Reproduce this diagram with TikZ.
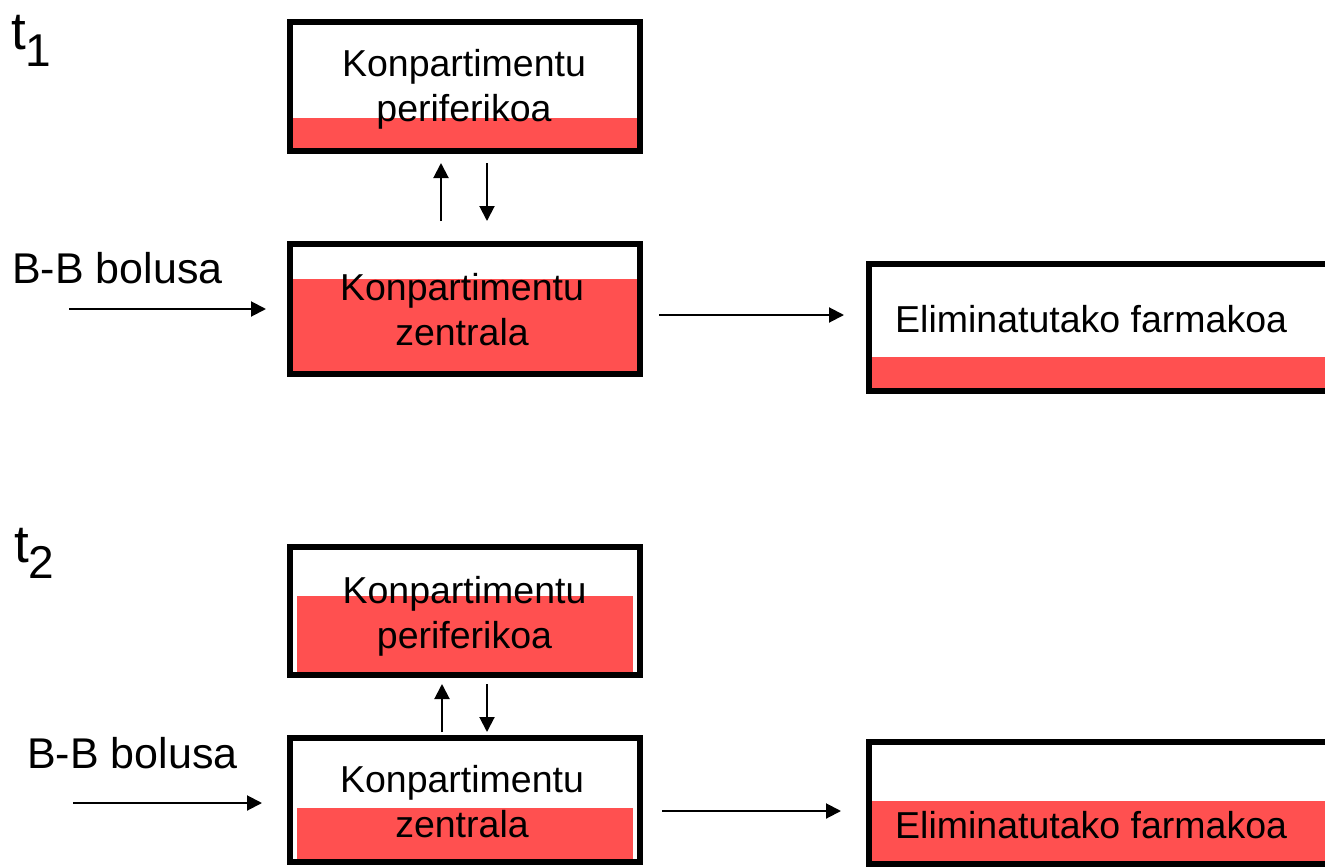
\documentclass[tikz,border=0pt]{standalone}
\usepackage{fontspec}
\setmainfont{Liberation Sans}
\usetikzlibrary{arrows.meta}
\definecolor{fillred}{RGB}{255,80,80}
\tikzset{
  box/.style={draw=black, line width=6pt, rectangle, inner sep=0pt, outer sep=0pt},
  redfill/.style={fill=fillred, draw=none},
  arr/.style={line width=2pt, -{Triangle[length=15pt,width=15pt]}},
  lbl/.style={inner sep=0pt, anchor=base, font=\fontsize{37.5}{45}\selectfont},
  sidelbl/.style={inner sep=0pt, anchor=base west, font=\fontsize{43}{50}\selectfont},
  elilbl/.style={inner sep=0pt, anchor=base west, font=\fontsize{37.5}{45}\selectfont},
  tlbl/.style={inner sep=0pt, anchor=base west, font=\fontsize{53}{60}\selectfont}
}
\newcommand{\twolines}[2]{\begin{tabular}[t]{@{}c@{}}#1\\#2\end{tabular}}
\begin{document}
\begin{tikzpicture}[x=1pt,y=-1pt]
\useasboundingbox (0,0) rectangle (1325,867);
\clip (0,0) rectangle (1325,867);
\fill[white] (0,0) rectangle (1325,867);
% ---------- t1 ----------
\path[redfill] (293,118) rectangle (637,148);
\path[redfill] (293,279) rectangle (637,371);
\path[redfill] (872,357) rectangle (1330,388);
\node[box, minimum width=350pt, minimum height=129pt] (per1) at (465,86.5) {};
\node[box, minimum width=350pt, minimum height=130pt] (cen1) at (465,309) {};
\node[box, minimum width=476pt, minimum height=127pt] (eli1) at (1107,327.5) {};
\node[lbl] (lp1) at (464,77) {\twolines{Konpartimentu}{periferikoa}};
\node[lbl] (lc1) at (462,300) {\twolines{Konpartimentu}{zentrala}};
\node[elilbl] (le1) at (895,332) {Eliminatutako farmakoa};
\node[sidelbl] (bb1) at (12,283) {B-B bolusa};
\node[tlbl] (t1) at (11,50) {t\raisebox{-17pt}{\fontsize{46}{50}\selectfont 1}};
\coordinate (in1) at (69,309);
\draw[arr, shorten >=24pt] (in1) -- (cen1.west);
\draw[arr, shorten <=19pt, shorten >=25pt] ([yshift=-6pt]cen1.east) -- ([yshift=12.5pt]eli1.west);
\draw[arr, shorten <=23pt, shorten >=12pt] ([xshift=-24pt]cen1.north) -- ([xshift=-24pt]per1.south);
\draw[arr, shorten <=12pt, shorten >=23pt] ([xshift=22pt]per1.south) -- ([xshift=22pt]cen1.north);
% ---------- t2 ----------
\path[redfill] (297,596) rectangle (633,672);
\path[redfill] (297,808) rectangle (633,859);
\path[redfill] (872,801) rectangle (1330,861);
\node[box, minimum width=350pt, minimum height=128pt] (per2) at (465,611) {};
\node[box, minimum width=350pt, minimum height=124pt] (cen2) at (465,800) {};
\node[box, minimum width=476pt, minimum height=122pt] (eli2) at (1107,803) {};
\node[lbl] (lp2) at (464.5,603) {\twolines{Konpartimentu}{periferikoa}};
\node[lbl] (lc2) at (462,792) {\twolines{Konpartimentu}{zentrala}};
\node[elilbl] (le2) at (895,838) {Eliminatutako farmakoa};
\node[sidelbl] (bb2) at (27,768) {B-B bolusa};
\node[tlbl] (t2) at (14,562) {t\raisebox{-16pt}{\fontsize{46}{50}\selectfont 2}};
\coordinate (in2) at (73,803);
\draw[arr, shorten >=28pt] (in2) -- ([yshift=-3pt]cen2.west);
\draw[arr, shorten <=22pt, shorten >=28pt] ([yshift=-11pt]cen2.east) -- ([yshift=-8pt]eli2.west);
\draw[arr, shorten <=6pt, shorten >=9pt] ([xshift=-23pt]cen2.north) -- ([xshift=-23pt]per2.south);
\draw[arr, shorten <=9pt, shorten >=6pt] ([xshift=22pt]per2.south) -- ([xshift=22pt]cen2.north);
\end{tikzpicture}
\end{document}
